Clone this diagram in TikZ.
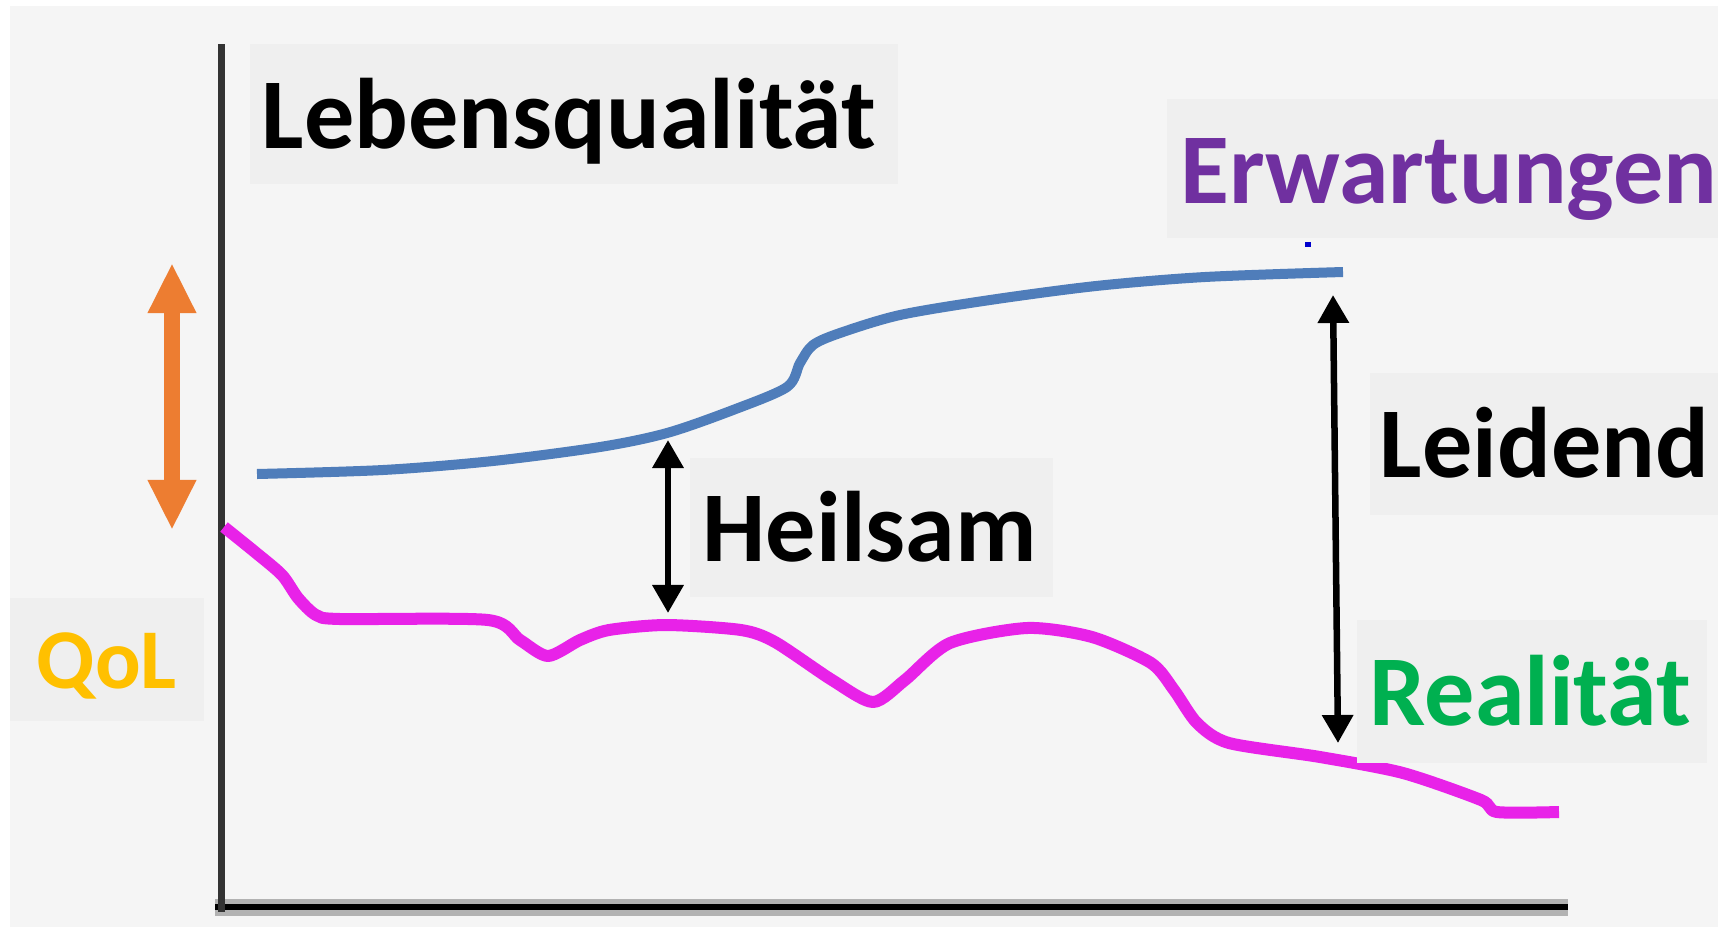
\documentclass[tikz,border=0pt]{standalone}
\usepackage{fontspec}
\setmainfont{Carlito}
\usepackage{tikz}
\usetikzlibrary{arrows.meta}
\usepackage{xcolor}
\definecolor{pagegray}{RGB}{245,245,245}
\definecolor{boxgray}{RGB}{239,239,239}
\definecolor{expblue}{RGB}{79,125,186}
\definecolor{realmag}{RGB}{232,34,232}
\definecolor{qolorange}{RGB}{237,125,49}
\definecolor{erwpurple}{RGB}{112,48,160}
\definecolor{realgreen}{RGB}{0,176,80}
\definecolor{qolgold}{RGB}{255,192,0}

\tikzset{
 labeltext/.style={anchor=base west,inner sep=0pt,font=\bfseries\fontsize{28.5}{34}\selectfont},
 gaparrow/.style={line width=0.065cm,{Triangle[width=0.3cm,length=0.28cm]}-{Triangle[width=0.3cm,length=0.28cm]}},
 qolarrow/.style={qolorange,line width=0.15cm,{Triangle[width=0.45cm,length=0.5cm]}-{Triangle[width=0.45cm,length=0.5cm]}}
}

\begin{document}
\begin{tikzpicture}[x=0.01cm,y=-0.01cm,line join=round,line cap=round]
 \useasboundingbox (0,0) rectangle (1718,927);
 \fill[white] (0,0) rectangle (1718,927);
 \fill[pagegray] (10,6) rectangle (1718,927);
 % axes
 \draw[line width=0.17cm,gray!60,line cap=butt] (215,907) -- (1568,907);
 \draw[line width=0.06cm,black,line cap=butt] (215,907) -- (1568,907);
 \draw[line width=0.07cm,black!80,line cap=butt] (221,44) -- (221,912);
 % curves
 \draw[expblue,line width=0.1cm,line cap=butt] plot[smooth,tension=0.5] coordinates
  {(257,474) (383,470) (493,461) (600,447) (667,433) (733,410) (787,387) (800,363)
   (813,345) (840,333) (900,315) (990,300) (1096,286) (1205,277) (1343,272)};
 \fill[blue!80!black] (1305,242) rectangle (1311,247);
 \draw[realmag,line width=0.12cm,line cap=butt] plot[smooth,tension=0.45] coordinates
  {(224,527) (255,552) (282,575) (298,598) (316,615) (340,619) (488,620) (520,640) (548,656)
   (580,640) (609,630) (666,625) (741,630) (775,642) (832,680) (873,702) (905,680)
   (950,643) (1027,628) (1092,637) (1151,663) (1174,690) (1197,723) (1229,743)
   (1320,757) (1403,773) (1481,800) (1497,812) (1559,812)};
 % label boxes
 \foreach \a/\b in {{(250,44)}/{(898,184)},{(1167,99)}/{(1718,238)},{(1370,373)}/{(1718,515)},
   {(690,458)}/{(1053,597)},{(1357,620)}/{(1707,763)},{(10,598)}/{(204,721)}}
  \fill[boxgray] \a rectangle \b;
 \node[labeltext] (lq) at (261,148) {Lebensqualität};
 \node[labeltext,erwpurple] (erw) at (1180,203) {Erwartungen};
 \node[labeltext] (leid) at (1379,477) {Leidend};
 \node[labeltext] (heil) at (702,561) {Heilsam};
 \node[labeltext,realgreen] (real) at (1369,725) {Realität};
 \node[labeltext,qolgold,font=\bfseries\fontsize{24.2}{29}\selectfont] (qol) at (36,688) {QoL};
 % gap arrows
 \coordinate (heilTop) at (668,440); \coordinate (heilBot) at (668,613);
 \coordinate (leidTop) at (1333,295); \coordinate (leidBot) at (1338,743);
 \coordinate (qolTop) at (172,263); \coordinate (qolBot) at (172,530);
 \draw[gaparrow,line cap=butt] (heilTop) -- (heilBot);
 \draw[gaparrow,line cap=butt] (leidTop) -- (leidBot);
 \draw[qolarrow,line cap=butt] (qolTop) -- (qolBot);
\end{tikzpicture}
\end{document}
